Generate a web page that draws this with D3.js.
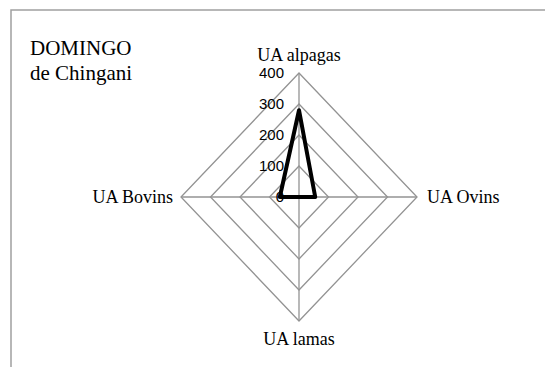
<!DOCTYPE html>
<html>
<head>
<meta charset="utf-8">
<script src="https://cdn.jsdelivr.net/npm/d3@7"></script>
<style>
  body { margin: 0; background: #fff; }
  svg { display: block; }
</style>
</head>
<body>
<div id="chart"></div>
<script>
// radar chart "DOMINGO de Chingani"
const titleLines = ["DOMINGO", "de Chingani"]
const categories = ["UA alpagas", "UA Ovins", "UA lamas", "UA Bovins"]
const values = [280, 55, 0, 65]
const tickValues = [0, 100, 200, 300, 400]

const width = 545, height = 367
const cx = 299, cy = 197
const serif = "'Liberation Serif', 'Times New Roman', serif"
const sans = "'Liberation Sans', Arial, sans-serif"

const rX = d3.scaleLinear().domain([0, 400]).range([0, 118])
const rY = d3.scaleLinear().domain([0, 400]).range([0, 124])
const angle = d3.scaleBand().domain(categories).range([0, 2 * Math.PI])

function pt(cat, v) {
  const a = angle(cat)
  return [cx + rX(v) * Math.sin(a), cy - rY(v) * Math.cos(a)]
}

const svg = d3.select("#chart").append("svg")
    .attr("width", width)
    .attr("height", height)

// frame (only top and left edges visible)
svg.append("path")
    .attr("d", "M11,367 V10 H545")
    .attr("fill", "none")
    .attr("stroke", "#a0a0a0")
    .attr("stroke-width", 1.5)

const line = d3.line().curve(d3.curveLinearClosed)

// grid rings
svg.selectAll(".ring")
    .data(tickValues.slice(1))
    .enter().append("path")
    .attr("class", "ring")
    .attr("d", function(t) { return line(categories.map(function(c) { return pt(c, t) })) })
    .attr("fill", "none")
    .attr("stroke", "#939393")
    .attr("stroke-width", 1.3)

// spokes
svg.selectAll(".spoke")
    .data(categories)
    .enter().append("line")
    .attr("x1", cx).attr("y1", cy)
    .attr("x2", function(c) { return pt(c, 400)[0] })
    .attr("y2", function(c) { return pt(c, 400)[1] })
    .attr("stroke", "#939393")
    .attr("stroke-width", 1.3)

// tick labels
svg.selectAll(".tick")
    .data(tickValues)
    .enter().append("text")
    .attr("x", 284)
    .attr("y", function(t) { return cy - rY(t) })
    .attr("dy", "0.35em")
    .attr("text-anchor", "end")
    .style("font-family", sans)
    .style("font-size", "15px")
    .attr("fill", "#000")
    .text(function(t) { return t })

// data polygon
svg.append("path")
    .attr("d", line(categories.map(function(c, i) { return pt(c, values[i]) })))
    .attr("fill", "none")
    .attr("stroke", "#000")
    .attr("stroke-width", 4)
    .attr("stroke-linejoin", "round")

// category labels
const labelPos = [
  {dx: 0, dy: -12, anchor: "middle"},
  {dx: 10, dy: 6, anchor: "start"},
  {dx: 0, dy: 24, anchor: "middle"},
  {dx: -8, dy: 6, anchor: "end"}
]
svg.selectAll(".cat")
    .data(categories)
    .enter().append("text")
    .attr("x", function(c, i) { return pt(c, 400)[0] + labelPos[i].dx })
    .attr("y", function(c, i) { return pt(c, 400)[1] + labelPos[i].dy })
    .attr("text-anchor", function(c, i) { return labelPos[i].anchor })
    .style("font-family", serif)
    .style("font-size", "18px")
    .attr("fill", "#000")
    .text(function(c) { return c })

// title
svg.selectAll(".title")
    .data(titleLines)
    .enter().append("text")
    .attr("x", 30)
    .attr("y", function(d, i) { return 55 + i * 25 })
    .style("font-family", serif)
    .style("font-size", "21px")
    .attr("fill", "#000")
    .text(function(d) { return d })
</script>
</body>
</html>
